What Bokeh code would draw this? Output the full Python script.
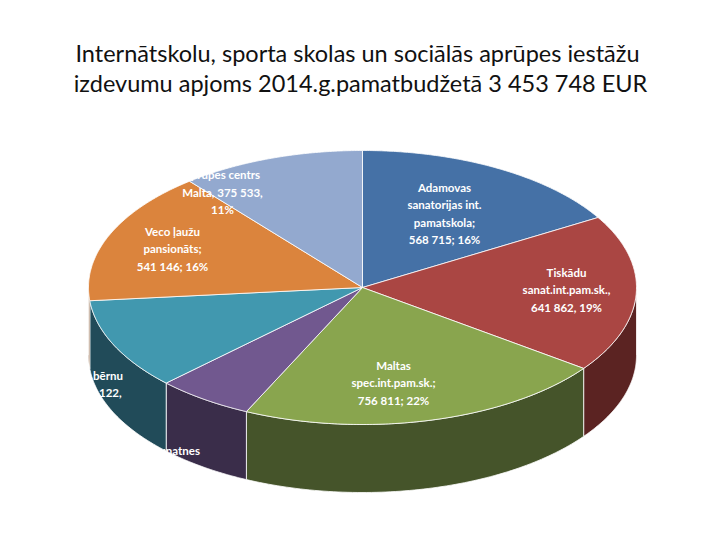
import numpy as np
from bokeh.plotting import figure
from bokeh.models import Range1d
from bokeh.core.properties import value
from bokeh.embed import file_html
from bokeh.resources import INLINE

# data
title_lines = ["Internātskolu, sporta skolas un sociālās  aprūpes iestāžu",
               "izdevumu apjoms 2014.g.pamatbudžetā 3 453 748 EUR"]
names = ["Adamovas\nsanatorijas int.\npamatskola;\n{v}; {p}%",
         "Tiskādu\nsanat.int.pam.sk.,\n{v}, {p}%",
         "Maltas\nspec.int.pam.sk.;\n{v}; {p}%",
         "Bērnu un jaunatnes\nsporta skola;\n{v}; {p}%",
         "Rēzeknes bērnu\nnams; {v},\n{p}%",
         "Veco ļaužu\npansionāts;\n{v}; {p}%",
         "Sociālās\naprūpes centrs\nMalta, {v},\n{p}%"]
values = [568715, 641862, 756811, 198559, 371122, 541146, 375533]

top_colors = ["#4571a6", "#aa4643", "#89a54e", "#71588f", "#4198af", "#db843d", "#93a9cf"]
side_colors = ["#2b4a70", "#5b2322", "#45542a", "#3a2d4a", "#214b59", "#7a4419", "#55688a"]
# where each label block starts (centre of first line), in page pixels
label_xy = [(444, 187), (566, 272), (393, 365), (150, 450), (82, 375), (172, 231), (222, 157)]

cx, cy, rx, ry, depth = 362, 287, 274, 137, 68

p = figure(width=704, height=524, x_range=Range1d(0, 704), y_range=Range1d(524, 0),
           output_backend="svg", toolbar_location=None, min_border=0,
           x_axis_type=None, y_axis_type=None)
p.grid.visible = False
p.outline_line_color = None
p.background_fill_color = "white"


def pt(clock):
    m = np.radians(90 - np.asarray(clock))
    return cx + rx * np.cos(m), cy - ry * np.sin(m)


vals = np.array(values, dtype=float)
total = vals.sum()
ends = np.cumsum(vals) / total * 360
starts = np.concatenate([[0], ends[:-1]])

# side walls (front half only)
for a0, a1, col in zip(starts, ends, side_colors):
    s, e = max(a0, 90), min(a1, 270)
    if s >= e:
        continue
    xs, ys = pt(np.linspace(s, e, 80))
    p.patch(list(xs) + list(xs[::-1]), list(ys) + list((ys + depth)[::-1]),
            fill_color=col, line_color="white", line_width=0.8)

# top faces
for a0, a1, col in zip(starts, ends, top_colors):
    xs, ys = pt(np.linspace(a0, a1, 120))
    p.patch([cx] + list(xs), [cy] + list(ys), fill_color=col,
            line_color="white", line_width=0.8)

# labels
lx, ly, lt = [], [], []
for name, v, (x0, y0) in zip(names, values, label_xy):
    txt = name.format(v=f"{v:,}".replace(",", " "), p=round(v / total * 100))
    for i, line in enumerate(txt.split("\n")):
        lx.append(x0)
        ly.append(y0 + i * 17.3)
        lt.append(line)
p.text(lx, ly, text=lt, text_color="white", text_font=value("Lato"),
       text_font_style="bold", text_font_size="11.5px",
       text_align="center", text_baseline="middle")

# title
p.text([360, 360], [52, 82], text=title_lines, text_color="#111111",
       text_font=value("Lato"), text_font_size="23.5px",
       text_align="center", text_baseline="middle")

open("out.html", "w").write(file_html(p, INLINE))
